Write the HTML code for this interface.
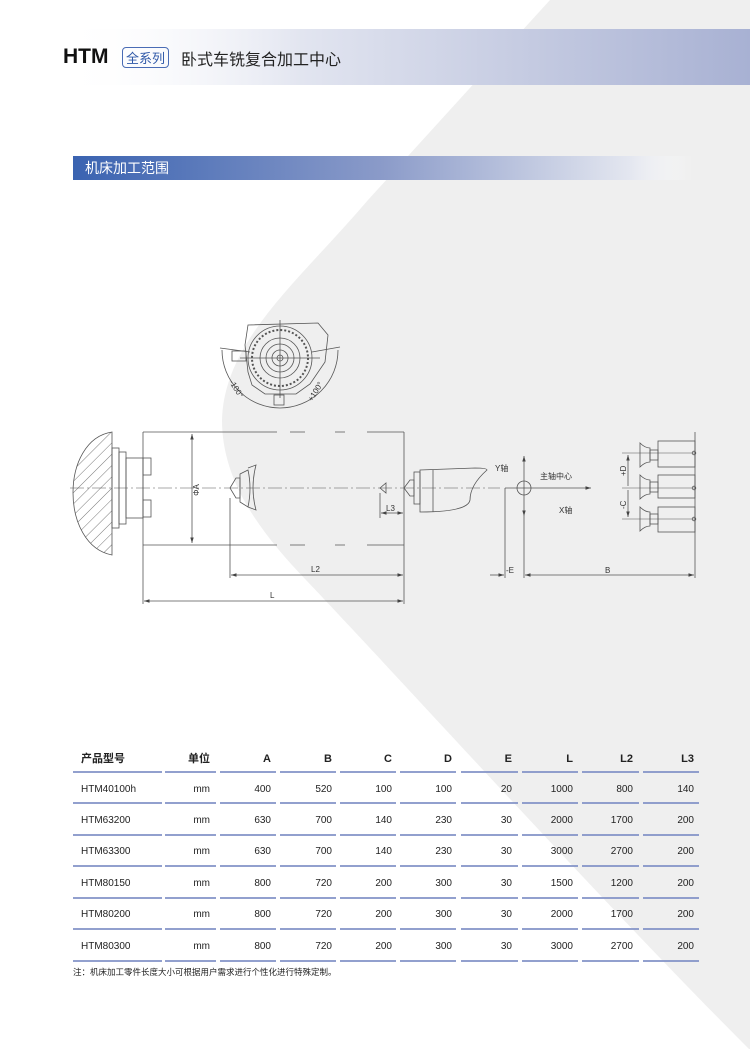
<!DOCTYPE html>
<html><head><meta charset="utf-8"><style>
html,body{margin:0;padding:0}
body{width:750px;height:1049px;position:relative;overflow:hidden;background:#fff;font-family:"Liberation Sans","Noto Sans CJK SC",sans-serif}
.abs{position:absolute}
</style></head><body>
<svg class="abs" style="left:0;top:0" width="750" height="1049">
<path d="M550,0 L368,200 C300,280 224,340 222,420 C222,480 258,530 306,580 C420,700 600,900 750,1050 L750,0 Z" fill="#efefef"/>
<defs>
<linearGradient id="hb" x1="0" x2="1"><stop offset="0" stop-color="#fff" stop-opacity="0"/><stop offset="0.35" stop-color="#e2e5f0"/><stop offset="1" stop-color="#a8b1d3"/></linearGradient>
<linearGradient id="sb" x1="0" x2="1"><stop offset="0" stop-color="#3a63b1"/><stop offset="0.5" stop-color="#8b9bc9"/><stop offset="0.9" stop-color="#e4e7f0"/><stop offset="1" stop-color="#fff" stop-opacity="0"/></linearGradient>
<pattern id="hatch" width="8" height="8" patternUnits="userSpaceOnUse" patternTransform="rotate(45)"><line x1="0" y1="0" x2="0" y2="8" stroke="#555" stroke-width="0.8"/></pattern>
<marker id="ar" markerWidth="8" markerHeight="6" refX="7" refY="3" orient="auto-start-reverse"><path d="M0,0.8 L7,3 L0,5.2 Z" fill="#444"/></marker>
</defs>
<rect x="60" y="29" width="690" height="56" fill="url(#hb)"/>
<rect x="73" y="156" width="620" height="24" fill="url(#sb)"/>

<g stroke="#555" stroke-width="0.8" fill="none">
<path d="M112,432 C60,440 60,545 112,555 Z" fill="url(#hatch)"/>
<rect x="112" y="448" width="7" height="80"/>
<rect x="119" y="452" width="7" height="72"/>
<rect x="126" y="458" width="17" height="60"/>
<rect x="143" y="458" width="8" height="17"/>
<rect x="143" y="500" width="8" height="17"/>
<path d="M143,432 V545 M404,432 V545"/>
<path d="M143,432 H277 M290,432 H305 M335,432 H345 M367,432 H404"/>
<path d="M143,545 H277 M290,545 H305 M335,545 H345 M367,545 H404"/>
<line x1="70" y1="488" x2="500" y2="488" stroke-dasharray="14,3,2,3" stroke-width="0.6"/>
<path d="M230,488 L236,478 L240,478 L240,498 L236,498 Z"/>
<path d="M240,474 L248,470 Q252,488 248,507 L240,502 Z"/>
<path d="M248,468 L256,465 Q250,488 256,510 L248,507"/>
<path d="M380,488 L386,483 L386,493 Z"/>
<path d="M404,488 L410,480 L414,480 L414,496 L410,496 Z"/>
<rect x="414" y="472" width="6" height="32"/>
<path d="M420,470 L475,468 Q487,468 487,470 Q470,485 470,500 Q468,512 420,512 Z"/>
<line x1="433" y1="470" x2="433" y2="512"/>
<line x1="192" y1="434" x2="192" y2="543" marker-start="url(#ar)" marker-end="url(#ar)"/>
<line x1="230" y1="498" x2="230" y2="578"/>
<line x1="143" y1="545" x2="143" y2="604"/>
<line x1="404" y1="545" x2="404" y2="604"/>
<line x1="380" y1="493" x2="380" y2="518"/>
<line x1="381" y1="513" x2="403" y2="513" marker-start="url(#ar)" marker-end="url(#ar)"/>
<line x1="231" y1="575" x2="403" y2="575" marker-start="url(#ar)" marker-end="url(#ar)"/>
<line x1="144" y1="601" x2="403" y2="601" marker-start="url(#ar)" marker-end="url(#ar)"/>
<line x1="524" y1="488" x2="524" y2="456" marker-end="url(#ar)"/>
<line x1="524" y1="488" x2="524" y2="516" marker-end="url(#ar)"/>
<circle cx="524" cy="488" r="7"/>
<line x1="505" y1="488" x2="591" y2="488" marker-end="url(#ar)"/>
<line x1="505" y1="488" x2="505" y2="578"/>
<line x1="524" y1="516" x2="524" y2="578"/>
<line x1="490" y1="575" x2="504" y2="575" marker-end="url(#ar)"/>
<line x1="525" y1="575" x2="694" y2="575" marker-start="url(#ar)" marker-end="url(#ar)"/>
<line x1="695" y1="432" x2="695" y2="578"/>
<rect x="658" y="441" width="37" height="26"/>
<rect x="658" y="475" width="37" height="23"/>
<rect x="658" y="507" width="37" height="25"/>
<path d="M640,443 Q645,448 650,448 L650,462 Q645,462 640,467 Z"/><rect x="650" y="450" width="8" height="10"/>
<path d="M640,475 Q645,480 650,480 L650,494 Q645,494 640,499 Z"/><rect x="650" y="482" width="8" height="10"/>
<path d="M640,507 Q645,512 650,512 L650,526 Q645,526 640,531 Z"/><rect x="650" y="514" width="8" height="10"/>
<path d="M622,453 H695 M622,488 H695 M622,519 H695" stroke-width="0.6"/>
<circle cx="694" cy="453" r="1.8"/><circle cx="694" cy="488" r="1.8"/><circle cx="694" cy="519" r="1.8"/>
<line x1="628" y1="486" x2="628" y2="455" marker-end="url(#ar)"/>
<line x1="628" y1="490" x2="628" y2="517" marker-end="url(#ar)"/>
<path d="M248,325 L318,323 L328,335 L325,362 L310,384 L296,394 L265,394 L252,385 L248,372 L245,345 Z"/>
<circle cx="280" cy="358" r="32"/><circle cx="280" cy="358" r="28" stroke-dasharray="2,2" stroke-width="2"/>
<circle cx="280" cy="358" r="20"/><circle cx="280" cy="358" r="14"/><circle cx="280" cy="358" r="8"/><circle cx="280" cy="358" r="3"/>
<line x1="240" y1="358" x2="320" y2="358"/><line x1="280" y1="320" x2="280" y2="398"/>
<rect x="232" y="351" width="14" height="10"/><rect x="274" y="395" width="10" height="10"/>
<path d="M222,350 A58,58 0 0 0 338,350" />
<line x1="220" y1="348" x2="250" y2="352"/><line x1="312" y1="352" x2="340" y2="347"/>
</g>
<g font-size="8" fill="#333" font-family="Liberation Sans,Noto Sans CJK SC,sans-serif">
<text x="193" y="496" transform="rotate(-90 193 490)" text-anchor="middle">ΦA</text>
<text x="386" y="511">L3</text>
<text x="311" y="572">L2</text>
<text x="270" y="598">L</text>
<text x="495" y="471">Y轴</text>
<text x="540" y="479">主轴中心</text>
<text x="559" y="513">X轴</text>
<text x="506" y="573">-E</text>
<text x="605" y="573">B</text>
<text transform="translate(626,476) rotate(-90)">+D</text>
<text transform="translate(626,509) rotate(-90)">-C</text>
<text transform="translate(229,382) rotate(58)">-100°</text>
<text transform="translate(312,402) rotate(-58)">+100°</text>
</g>
</svg>

<div class="abs" style="left:63px;top:45px;font-size:21px;font-weight:bold;color:#111">HTM</div>
<div class="abs" style="left:122px;top:47px;border:1px solid #4a6cb5;border-radius:4px;color:#2f58a8;font-size:13px;padding:0 3px;line-height:19px;font-family:'Noto Sans CJK SC',sans-serif">全系列</div>
<div class="abs" style="left:181px;top:46px;font-size:16px;color:#222;font-family:'Noto Sans CJK SC',sans-serif">卧式车铣复合加工中心</div>
<div class="abs" style="left:85px;top:158px;font-size:14px;color:#fff;font-family:'Noto Sans CJK SC',sans-serif;line-height:20px">机床加工范围</div>

<svg class="abs" style="left:73px;top:0" width="630" height="1049">
<defs><g id="row" stroke="#8393c7" stroke-width="1.8">
<line x1="0" x2="89"/><line x1="92" x2="143"/><line x1="147" x2="203"/><line x1="207" x2="263"/><line x1="267" x2="323"/><line x1="327" x2="383"/><line x1="388" x2="445"/><line x1="449" x2="505"/><line x1="509" x2="566"/><line x1="570" x2="626"/>
</g></defs>
<use href="#row" y="772"/><use href="#row" y="803"/><use href="#row" y="835"/><use href="#row" y="866"/><use href="#row" y="898"/><use href="#row" y="929"/><use href="#row" y="961"/>
<g font-size="10" fill="#222" text-anchor="end" font-family="Liberation Sans,Noto Sans CJK SC,sans-serif">
<g font-weight="bold" font-size="11">
<text x="8" y="762" text-anchor="start">产品型号</text><text x="137" y="762">单位</text><text x="198" y="762">A</text><text x="259" y="762">B</text><text x="319" y="762">C</text><text x="379" y="762">D</text><text x="439" y="762">E</text><text x="500" y="762">L</text><text x="560" y="762">L2</text><text x="621" y="762">L3</text>
</g>
<g>
<text x="8" y="792" text-anchor="start">HTM40100h</text><text x="137" y="792">mm</text><text x="198" y="792">400</text><text x="259" y="792">520</text><text x="319" y="792">100</text><text x="379" y="792">100</text><text x="439" y="792">20</text><text x="500" y="792">1000</text><text x="560" y="792">800</text><text x="621" y="792">140</text>
<text x="8" y="823" text-anchor="start">HTM63200</text><text x="137" y="823">mm</text><text x="198" y="823">630</text><text x="259" y="823">700</text><text x="319" y="823">140</text><text x="379" y="823">230</text><text x="439" y="823">30</text><text x="500" y="823">2000</text><text x="560" y="823">1700</text><text x="621" y="823">200</text>
<text x="8" y="854" text-anchor="start">HTM63300</text><text x="137" y="854">mm</text><text x="198" y="854">630</text><text x="259" y="854">700</text><text x="319" y="854">140</text><text x="379" y="854">230</text><text x="439" y="854">30</text><text x="500" y="854">3000</text><text x="560" y="854">2700</text><text x="621" y="854">200</text>
<text x="8" y="886" text-anchor="start">HTM80150</text><text x="137" y="886">mm</text><text x="198" y="886">800</text><text x="259" y="886">720</text><text x="319" y="886">200</text><text x="379" y="886">300</text><text x="439" y="886">30</text><text x="500" y="886">1500</text><text x="560" y="886">1200</text><text x="621" y="886">200</text>
<text x="8" y="917" text-anchor="start">HTM80200</text><text x="137" y="917">mm</text><text x="198" y="917">800</text><text x="259" y="917">720</text><text x="319" y="917">200</text><text x="379" y="917">300</text><text x="439" y="917">30</text><text x="500" y="917">2000</text><text x="560" y="917">1700</text><text x="621" y="917">200</text>
<text x="8" y="949" text-anchor="start">HTM80300</text><text x="137" y="949">mm</text><text x="198" y="949">800</text><text x="259" y="949">720</text><text x="319" y="949">200</text><text x="379" y="949">300</text><text x="439" y="949">30</text><text x="500" y="949">3000</text><text x="560" y="949">2700</text><text x="621" y="949">200</text>
</g>
<text x="0" y="975" text-anchor="start" font-size="8.5">注：机床加工零件长度大小可根据用户需求进行个性化进行特殊定制。</text>
</g>
</svg>
</body></html>
